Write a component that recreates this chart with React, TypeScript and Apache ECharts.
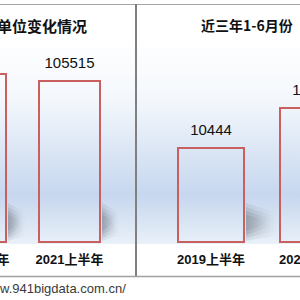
import React, { useEffect, useRef } from 'react';
import * as echarts from 'echarts';

const leftTitle = '单位变化情况';
const rightTitle = '近三年1-6月份';
const leftCategories = ['2020上半年', '2021上半年'];
const leftValues = [110000, 105515];
const rightCategories = ['2019上半年', '2020上半年'];
const rightValues = [10444, 14800];
const footerText = 'w.941bigdata.com.cn/';

const OFF = 100; // chart canvas extends this far left of the visible window

export default function App() {
  const ref = useRef<HTMLDivElement>(null);
  useEffect(() => {
    const el = ref.current!;
    const chart = echarts.init(el, null, { renderer: 'svg', width: 400 + OFF, height: 300 });
    const labelFont = '"Liberation Sans", Arial, "Noto Sans CJK SC", sans-serif';
    const cjkFont = '"Noto Sans CJK SC", sans-serif';
    const barStyle = { color: 'rgba(0,0,0,0)', borderColor: '#c9605f', borderWidth: 2 };
    const barWidths = [63, 68];
    const shadowLen = [18, 32];
    const xAxisBase: any = {
      type: 'category',
      axisLine: { show: false },
      axisTick: { show: false },
      axisLabel: { fontSize: 13, fontWeight: 'bold', color: '#111', fontFamily: labelFont, margin: 10, interval: 0 },
    };
    const valueLabel = { show: true, position: 'top', distance: 10, fontSize: 15, color: '#111', fontFamily: labelFont };
    const bgGrad = () => new echarts.graphic.LinearGradient(0, 0, 0, 1, [
      { offset: 0, color: '#ffffff' },
      { offset: 0.3, color: '#f3f7fc' },
      { offset: 0.76, color: '#c6d7ee' },
      { offset: 1, color: '#e9f0f8' },
    ]);
    const X = (x: number) => x + OFF;
    const baseGraphic: any[] = [
      { type: 'rect', z: -10, shape: { x: X(-10), y: 40, width: 145, height: 204 }, style: { fill: bgGrad() } },
      { type: 'rect', z: -10, shape: { x: X(137), y: 40, width: 200, height: 204 }, style: { fill: bgGrad() } },
      { type: 'line', z: 20, shape: { x1: X(-10), y1: 4.5, x2: X(320), y2: 4.5 }, style: { stroke: '#a6a6a6', lineWidth: 1 } },
      { type: 'line', z: 20, shape: { x1: X(136), y1: 4, x2: X(136), y2: 276 }, style: { stroke: '#808080', lineWidth: 2 } },
      { type: 'line', z: 20, shape: { x1: X(-10), y1: 276.5, x2: X(320), y2: 276.5 }, style: { stroke: '#a0a0a0', lineWidth: 1.5 } },
      { type: 'text', z: 20, x: X(87), y: 25, style: { text: leftTitle, align: 'right', verticalAlign: 'middle', fontSize: 15, fontWeight: 'bold', fontFamily: cjkFont, fill: '#111' } },
      { type: 'text', z: 20, x: X(201), y: 25, style: { text: rightTitle, align: 'left', verticalAlign: 'middle', fontSize: 14, fontWeight: 'bold', fontFamily: cjkFont, fill: '#111' } },
      { type: 'text', z: 20, x: X(0), y: 288, style: { text: footerText, align: 'left', verticalAlign: 'middle', fontSize: 13, fontFamily: labelFont, fill: '#3a3a3a' } },
    ];
    const option: any = {
      animation: false,
      backgroundColor: '#ffffff',
      grid: [
        { left: X(-71.5), width: 188, top: 57.6, height: 185.4 },
        { left: X(160), width: 204, top: 95.93, height: 147.07 },
      ],
      xAxis: [
        { ...xAxisBase, gridIndex: 0, data: leftCategories },
        { ...xAxisBase, gridIndex: 1, data: rightCategories },
      ],
      yAxis: [
        { type: 'value', gridIndex: 0, min: 0, max: 120000, show: false },
        { type: 'value', gridIndex: 1, min: 0, max: 16000, show: false },
      ],
      series: [
        {
          type: 'bar', xAxisIndex: 0, yAxisIndex: 0, barWidth: barWidths[0], z: 5,
          data: leftValues.map((v, i) => (i === 0 ? { value: v, label: { show: false } } : v)),
          itemStyle: barStyle, label: valueLabel,
        },
        {
          type: 'bar', xAxisIndex: 1, yAxisIndex: 1, barWidth: barWidths[1], z: 5,
          data: rightValues,
          itemStyle: barStyle, label: valueLabel,
        },
      ],
      graphic: baseGraphic,
    };
    chart.setOption(option);

    // soft cast shadows to the right of each bar's foot, layered to fake a blur
    const shadows: any[] = [];
    [leftValues, rightValues].forEach((vals, g) => {
      vals.forEach((_v, i) => {
        const p = chart.convertToPixel({ gridIndex: g } as any, [i, 0]) as number[];
        if (!p) return;
        const R = p[0] + barWidths[g] / 2 + 1;
        const B = p[1];
        const L = shadowLen[g];
        const layers = [
          { t: 40, b: 2, e1: 30, e2: 8, a: 0.15 },
          { t: 36, b: 5, e1: 27, e2: 12, a: 0.18 },
          { t: 32, b: 8, e1: 25, e2: 16, a: 0.2 },
          { t: 28, b: 12, e1: 23, e2: 19, a: 0.2 },
        ];
        layers.forEach((ly, k) => {
          const len = L * (1 - k * 0.12);
          shadows.push({
            type: 'polygon', z: -5,
            shape: { points: [[R, B - ly.b], [R, B - ly.t], [R + len, B - ly.e1], [R + len, B - ly.e2]] },
            style: {
              fill: new echarts.graphic.LinearGradient(0, 0, 1, 0, [
                { offset: 0, color: `rgba(100,106,118,${ly.a})` },
                { offset: 1, color: 'rgba(100,106,118,0)' },
              ]),
            },
          });
        });
      });
    });
    chart.setOption({ graphic: [...baseGraphic, ...shadows] });
    return () => chart.dispose();
  }, []);
  return (
    <div style={{ position: 'fixed', left: 0, top: 0, width: 300, height: 300, overflow: 'hidden', background: '#fff' }}>
      <div ref={ref} style={{ position: 'absolute', left: -OFF, top: 0, width: 400 + OFF, height: 300 }} />
    </div>
  );
}
